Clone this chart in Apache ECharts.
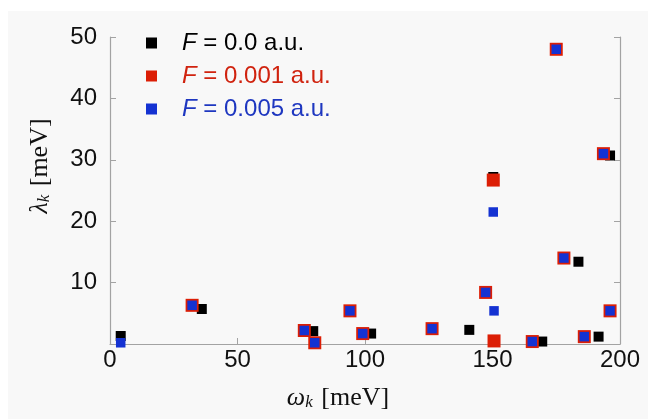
<!DOCTYPE html>
<html>
<head>
<meta charset="utf-8">
<script src="https://cdn.jsdelivr.net/npm/echarts@6/dist/echarts.min.js"></script>
<style>
  html, body { margin: 0; padding: 0; background: #fff; }
  #chart { width: 648px; height: 419px; }
</style>
</head>
<body>
<div id="chart"></div>
<script>
//--------------------- Data ---------------------------//
// omega_k [meV], lambda_k [meV]
const seriesNames = ['F = 0.0 a.u.', 'F = 0.001 a.u.', 'F = 0.005 a.u.'];
const seriesColors = ['#000000', '#dc1e05', '#1432d2'];
const textColors = ['#000000', '#d0230f', '#1e37c0'];

const omegaF0 = [4.2, 36, 79.7, 102.4, 140.9, 150.3, 169.5, 183.7, 191.6, 196.1];
const lambdaF0 = [1.3, 5.7, 2.1, 1.7, 2.3, 27.2, 0.4, 13.4, 1.2, 30.7];

const omegaF1 = [32.2, 76.2, 80.3, 94.1, 99.1, 126.3, 147.3, 150.3, 150.6, 165.6, 175, 178, 186, 193.5, 196.1];
const lambdaF1 = [6.3, 2.2, 0.2, 5.4, 1.7, 2.5, 8.4, 26.7, 0.5, 0.4, 48.0, 14.0, 1.2, 31.0, 5.4];

const omegaF5 = [4.2, 32.2, 76.2, 80.3, 94.1, 99.1, 126.3, 147.3, 150.3, 150.6, 165.6, 175, 178, 186, 193.5, 196.1];
const lambdaF5 = [0.2, 6.3, 2.2, 0.2, 5.4, 1.7, 2.5, 8.4, 21.5, 5.4, 0.4, 48.0, 14.0, 1.2, 31.0, 5.4];

const xTicks = [0, 50, 100, 150, 200];
const yTicks = [10, 20, 30, 40, 50];

//--------------------- Helpers ---------------------------//
const zip = (xs, ys) => xs.map((x, i) => [x, ys[i]]);
const axisGrey = '#a3a3a3';
const tickFont = { fontFamily: 'Liberation Sans', fontSize: 24, color: '#111' };

//--------------------- Chart ---------------------------//
const chart = echarts.init(document.getElementById('chart'), null, { renderer: 'canvas' });

const option = {
  backgroundColor: '#ffffff',
  animation: false,
  graphic: [
    { type: 'rect', z: -10, shape: { x: 8, y: 11, width: 640, height: 408 }, style: { fill: '#f8f8f8' }, silent: true },
    {
      type: 'text', x: 40, y: 166, rotation: Math.PI / 2,
      style: {
        text: '{g|λ}{s|k} [meV]',
        fill: '#111', align: 'center', verticalAlign: 'middle',
        fontFamily: 'Liberation Serif', fontSize: 26,
        rich: {
          g: { fontFamily: 'Liberation Serif', fontSize: 26, fontStyle: 'italic', fill: '#111' },
          s: { fontFamily: 'Liberation Serif', fontSize: 17, fontStyle: 'italic', fill: '#111', padding: [10, 2, 0, 0] }
        }
      }
    },
    {
      type: 'text', x: 338, y: 398,
      style: {
        text: '{g|ω}{s|k} [meV]',
        fill: '#111', align: 'center', verticalAlign: 'middle',
        fontFamily: 'Liberation Serif', fontSize: 26,
        rich: {
          g: { fontFamily: 'Liberation Serif', fontSize: 26, fontStyle: 'italic', fill: '#111' },
          s: { fontFamily: 'Liberation Serif', fontSize: 17, fontStyle: 'italic', fill: '#111', padding: [10, 2, 0, 0] }
        }
      }
    }
  ],
  grid: { left: 110, right: 28, top: 37, bottom: 75 },
  legend: {
    left: 141,
    top: 26,
    orient: 'vertical',
    icon: 'rect',
    itemWidth: 11,
    itemHeight: 11,
    itemGap: 9,
    data: seriesNames.map((n, i) => ({ name: n, textStyle: { color: textColors[i] } })),
    formatter: (name) => '{sp|}{f|F}' + name.slice(1),
    textStyle: {
      fontFamily: 'Liberation Sans',
      fontSize: 24,
      lineHeight: 24,
      rich: {
        sp: { width: 20 },
        f: { fontFamily: 'Liberation Sans', fontSize: 24, fontStyle: 'italic' }
      }
    }
  },
  xAxis: {
    type: 'value', min: 0, max: 200, interval: 50,
    axisLine: { show: true, lineStyle: { color: axisGrey, width: 1.2 } },
    axisTick: { show: true, inside: true, length: 6, lineStyle: { color: axisGrey } },
    axisLabel: Object.assign({ margin: 4, customValues: xTicks }, tickFont),
    splitLine: { show: false }
  },
  yAxis: [
    {
      type: 'value', min: 0, max: 50, interval: 10, position: 'left',
      axisLine: { show: true, lineStyle: { color: axisGrey, width: 1.2 } },
      axisTick: { show: true, inside: true, length: 6, lineStyle: { color: axisGrey } },
      axisLabel: Object.assign({ margin: 13, formatter: (v) => (yTicks.includes(v) ? String(v) : '') }, tickFont),
      splitLine: { show: false }
    },
    {
      type: 'value', min: 0, max: 50, interval: 10, position: 'right',
      axisLine: { show: true, lineStyle: { color: axisGrey, width: 1.2 } },
      axisTick: { show: true, inside: true, length: 6, lineStyle: { color: axisGrey } },
      axisLabel: { show: false },
      splitLine: { show: false }
    }
  ],
  series: [
    {
      name: seriesNames[0], type: 'scatter', symbol: 'rect', symbolSize: 10,
      itemStyle: { color: seriesColors[0], opacity: 1 },
      data: zip(omegaF0, lambdaF0), z: 2
    },
    {
      name: seriesNames[1], type: 'scatter', symbol: 'rect', symbolSize: 13,
      itemStyle: { color: seriesColors[1], opacity: 1 },
      data: zip(omegaF1, lambdaF1), z: 3
    },
    {
      name: seriesNames[2], type: 'scatter', symbol: 'rect', symbolSize: 9.5,
      itemStyle: { color: seriesColors[2], opacity: 1 },
      data: zip(omegaF5, lambdaF5), z: 4
    }
  ]
};

chart.setOption(option);
</script>
</body>
</html>
